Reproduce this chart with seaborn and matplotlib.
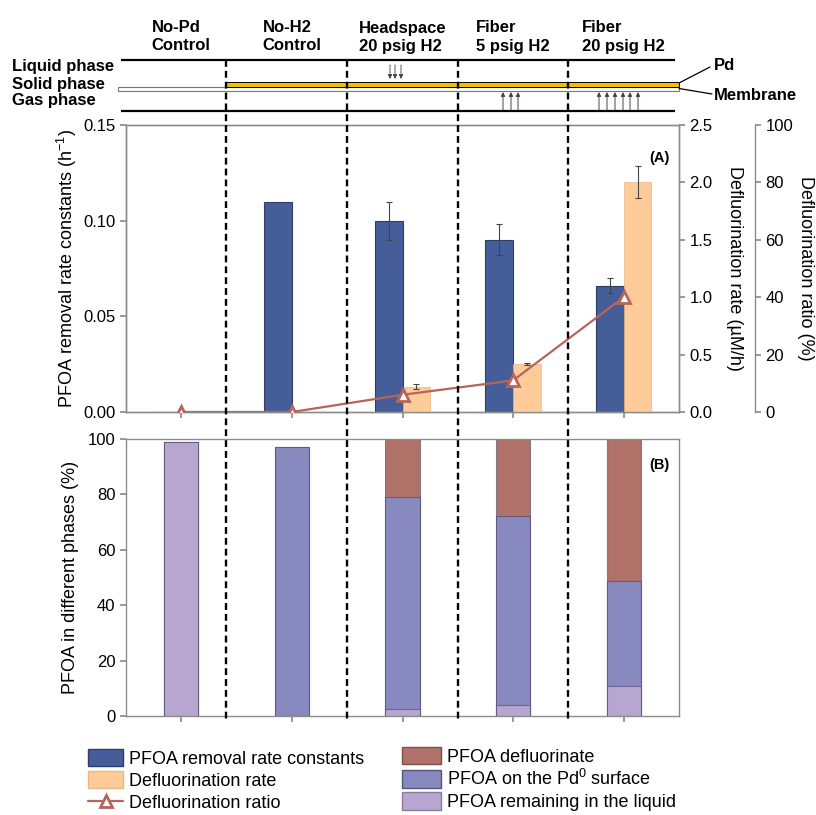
"""Pd-coated membrane PFOA experiment: rate constants (A) and phase balance (B)."""

import matplotlib

matplotlib.use("Agg")
import matplotlib.pyplot as plt
import matplotlib.transforms as mtransforms
import numpy as np
import pandas as pd
import seaborn as sns
from matplotlib.lines import Line2D
from matplotlib.patches import Patch, Rectangle

# Kondisi percobaan (kolom header)
conditions = [
    "No-Pd\nControl",
    "No-H2\nControl",
    "Headspace\n20 psig H2",
    "Fiber\n5 psig H2",
    "Fiber\n20 psig H2",
]

# Panel A
removal_k = [0.0, 0.110, 0.100, 0.090, 0.066]          # h^-1
removal_k_err = [np.nan, np.nan, 0.010, 0.008, 0.004]
defluor_rate = [0.0, 0.0, 0.22, 0.42, 2.0]             # uM/h
defluor_rate_err = [np.nan, np.nan, 0.02, 0.01, 0.14]
defluor_ratio = [0.0, 0.0, 6.0, 11.0, 40.0]            # %

# Panel B (%)
pct_liquid = [99.0, 0.0, 2.5, 4.0, 10.8]
pct_surface = [0.0, 97.0, 76.6, 68.2, 37.9]
pct_defluor = [0.0, 0.0, 20.9, 27.8, 51.3]

lbl_k = "PFOA removal rate constants"
lbl_rate = "Defluorination rate"
lbl_ratio = "Defluorination ratio"
lbl_defl = "PFOA defluorinate"
lbl_surf = "PFOA on the Pd$^{0}$ surface"
lbl_liq = "PFOA remaining in the liquid"

C_BLUE = "#455E99"
C_ORANGE = "#FFCC99"
C_LINE = "#B5655A"
C_DEFL = "#B07268"
C_SURF = "#8889BE"
C_LIQ = "#B7A6D0"
C_SPINE = "#8C8C8C"

sns.set_theme(style="ticks")
plt.rcParams["font.family"] = ["Liberation Sans", "DejaVu Sans"]
plt.rcParams["mathtext.fontset"] = "custom"
plt.rcParams["mathtext.rm"] = "Liberation Sans"
plt.rcParams["mathtext.it"] = "Liberation Sans:italic"
plt.rcParams["text.color"] = "black"
plt.rcParams["axes.labelcolor"] = "black"
plt.rcParams["xtick.labelcolor"] = "black"
plt.rcParams["ytick.labelcolor"] = "black"

W, H = 816, 815
fig = plt.figure(figsize=(W / 100, H / 100), dpi=100)

AX_L, AX_R = 126 / W, 679 / W
ax = fig.add_axes([AX_L, 1 - 412 / H, AX_R - AX_L, 287 / H])
axb = fig.add_axes([AX_L, 1 - 716 / H, AX_R - AX_L, 277 / H])

pos = np.arange(len(conditions))
hue_order = [lbl_k, lbl_rate]
palette = {lbl_k: C_BLUE, lbl_rate: C_ORANGE}

# --- Panel A: bar kiri (k) dan kanan (laju defluorinasi) pada sumbu berbeda
df_k = pd.DataFrame({"pos": pos, "value": removal_k, "series": lbl_k})
df_rate = pd.DataFrame({"pos": pos, "value": defluor_rate, "series": lbl_rate})

sns.barplot(data=df_k, x="pos", y="value", hue="series", hue_order=hue_order,
            palette=palette, width=0.5, dodge=True, saturation=1,
            errorbar=None, legend=False, edgecolor="#2E3D68", linewidth=0.8,
            ax=ax)
for p, err in zip(ax.patches, removal_k_err):
    if not np.isnan(err):
        ax.errorbar(p.get_x() + p.get_width() / 2, p.get_height(), yerr=err,
                    color="#444444", lw=0.8, capsize=2, capthick=0.8)

ax2 = ax.twinx()
sns.barplot(data=df_rate, x="pos", y="value", hue="series", hue_order=hue_order,
            palette=palette, width=0.5, dodge=True, saturation=1,
            errorbar=None, legend=False, edgecolor="#E8B886", linewidth=0.5,
            ax=ax2)
for p, err in zip(ax2.patches, defluor_rate_err):
    if not np.isnan(err):
        ax2.errorbar(p.get_x() + p.get_width() / 2, p.get_height(), yerr=err,
                     color="#444444", lw=0.8, capsize=2, capthick=0.8)

ax3 = ax.twinx()
sns.lineplot(x=pos, y=defluor_ratio, ax=ax3, color=C_LINE, lw=1.6, marker="^",
             markersize=9, markerfacecolor="white", markeredgecolor=C_LINE,
             markeredgewidth=2)

ax.set_xlim(-0.5, 4.5)
ax.set_ylim(0, 0.15)
ax.set_yticks([0, 0.05, 0.10, 0.15])
ax.yaxis.set_major_formatter(matplotlib.ticker.FormatStrFormatter("%.2f"))
ax.set_xticks(pos)
ax.tick_params(axis="x", labelbottom=False, length=4, color=C_SPINE)
ax.set_xlabel("")
ax.set_ylabel("PFOA removal rate constants (h$^{-1}$)", fontsize=13)

ax2.set_ylim(0, 2.5)
ax2.set_yticks([0, 0.5, 1.0, 1.5, 2.0, 2.5])
ax2.yaxis.set_major_formatter(matplotlib.ticker.FormatStrFormatter("%.1f"))
ax2.set_ylabel("Defluorination rate (\u00b5M/h)", fontsize=13, rotation=270,
               va="center")
ax2.yaxis.set_label_coords((735 - 126) / 553, 0.5)
ax2.set_xlabel("")

ax3.set_ylim(0, 100)
ax3.set_yticks(range(0, 101, 20))
ax3.spines["right"].set_position(("axes", (755 - 126) / 553))
for s in ["left", "top", "bottom"]:
    ax3.spines[s].set_visible(False)
ax3.set_ylabel("Defluorination ratio (%)", fontsize=13, rotation=270, va="center")
ax3.yaxis.set_label_coords((805 - 126) / 553, 0.5)
ax3.set_xlim(-0.5, 4.5)

for a in (ax, ax2, ax3):
    for s in a.spines.values():
        s.set_color(C_SPINE)
        s.set_linewidth(1.0)
    a.tick_params(axis="y", labelsize=12, length=4, color=C_SPINE)

ax.text(0.964, 0.885, "(A)", transform=ax.transAxes, ha="center", va="center",
        fontsize=10.5, fontweight="bold")

# --- Panel B: bar bertumpuk (ditumpuk dari total ke bawah)
top_surf = np.add(pct_liquid, pct_surface)
top_defl = top_surf + np.array(pct_defluor)
for heights, color in [(top_defl, C_DEFL), (top_surf, C_SURF), (pct_liquid, C_LIQ)]:
    sns.barplot(x=pos, y=heights, color=color, width=0.31, saturation=1,
                errorbar=None, edgecolor=(0.25, 0.25, 0.4, 0.55),
                linewidth=0.8, ax=axb)

axb.set_xlim(-0.5, 4.5)
axb.set_ylim(0, 100)
axb.set_yticks(range(0, 101, 20))
axb.set_xticks(pos)
axb.tick_params(axis="x", labelbottom=False, length=4, color=C_SPINE)
axb.tick_params(axis="y", labelsize=12, length=4, color=C_SPINE)
axb.set_ylabel("PFOA in different phases (%)", fontsize=13)
for s in axb.spines.values():
    s.set_color(C_SPINE)
    s.set_linewidth(1.0)
axb.text(0.964, 0.906, "(B)", transform=axb.transAxes, ha="center", va="center",
         fontsize=10.5, fontweight="bold")

ax.yaxis.set_label_coords(-0.085, 0.5)
axb.yaxis.set_label_coords(-0.085, 0.5)

# --- Diagram reaktor di atas panel A (sumbu y dalam satuan piksel)
diag = fig.add_axes([AX_L, 1 - 115 / H, AX_R - AX_L, 100 / H], sharex=ax)
diag.set_ylim(115, 15)
diag.axis("off")


def px2x(px):
    return (px - 126) / 110.6 - 0.5


for yy in (60, 111):
    diag.plot([px2x(121), px2x(675)], [yy, yy], color="black", lw=1.6,
              solid_capstyle="butt", clip_on=False)
diag.add_patch(Rectangle((px2x(118), 86.5), px2x(679) - px2x(118), 4,
                         facecolor="white", edgecolor="#777777", lw=0.8,
                         clip_on=False))
diag.add_patch(Rectangle((px2x(225), 82), px2x(679) - px2x(225), 4.5,
                         facecolor="#F2BE00", edgecolor="black", lw=0.7,
                         clip_on=False))

arrow_kw = dict(arrowstyle="-|>", lw=0.7, color="#444444", mutation_scale=6,
                shrinkA=0, shrinkB=0)
for px in (390, 395, 401):
    diag.annotate("", xy=(px2x(px), 79), xytext=(px2x(px), 65),
                  arrowprops=dict(arrow_kw, linestyle=(0, (2, 1))),
                  annotation_clip=False)
for px in (503, 511, 518, 599, 607, 615, 623, 630, 638):
    diag.annotate("", xy=(px2x(px), 92), xytext=(px2x(px), 110),
                  arrowprops=arrow_kw, annotation_clip=False)

diag.plot([px2x(679), px2x(710)], [83, 67], color="black", lw=0.9, clip_on=False)
diag.plot([px2x(679), px2x(712)], [88.5, 94], color="black", lw=0.9, clip_on=False)
head_kw = dict(fontsize=12, fontweight="bold")
diag.text(px2x(714), 66, "Pd", ha="left", va="center", **head_kw)
diag.text(px2x(714), 95, "Membrane", ha="left", va="center", **head_kw)
for yy, name in [(67, "Liquid phase"), (84, "Solid phase"), (101, "Gas phase")]:
    diag.text(px2x(12), yy, name, ha="left", va="center", **head_kw)
for i, cond in enumerate(conditions):
    diag.text(i, 37, cond, ha="center", va="center", multialignment="left",
              linespacing=1.25, **head_kw)

# Garis pemisah putus-putus menembus semua panel
trans = mtransforms.blended_transform_factory(ax.transData, fig.transFigure)
for xv in [0.4, 1.5, 2.5, 3.5]:
    fig.add_artist(Line2D([xv, xv], [1 - 60 / H, 1 - 720 / H], transform=trans,
                          color="black", lw=1.7, ls=(0, (2.9, 1.7)), zorder=10))

# --- Legenda
left_handles = [
    Patch(facecolor=C_BLUE, edgecolor="#2E3D68", label=lbl_k),
    Patch(facecolor=C_ORANGE, edgecolor="#E8B886", label=lbl_rate),
    Line2D([], [], color=C_LINE, lw=1.6, marker="^", markersize=9,
           markerfacecolor="white", markeredgecolor=C_LINE, markeredgewidth=2,
           label=lbl_ratio),
]
right_handles = [
    Patch(facecolor=C_DEFL, edgecolor="#7A5050", label=lbl_defl),
    Patch(facecolor=C_SURF, edgecolor="#55557A", label=lbl_surf),
    Patch(facecolor=C_LIQ, edgecolor="#8A7AA0", label=lbl_liq),
]
leg_kw = dict(loc="upper left", frameon=False, fontsize=13, borderpad=0,
              borderaxespad=0, handleheight=1.1, labelspacing=0.18)
fig.legend(handles=left_handles, bbox_to_anchor=(88 / W, 1 - 749 / H),
           handlelength=1.95, handletextpad=0.3, **leg_kw)
fig.legend(handles=right_handles, bbox_to_anchor=(402 / W, 1 - 747 / H),
           handlelength=2.15, handletextpad=0.35, **leg_kw)

fig.savefig("out.png", dpi=100)
